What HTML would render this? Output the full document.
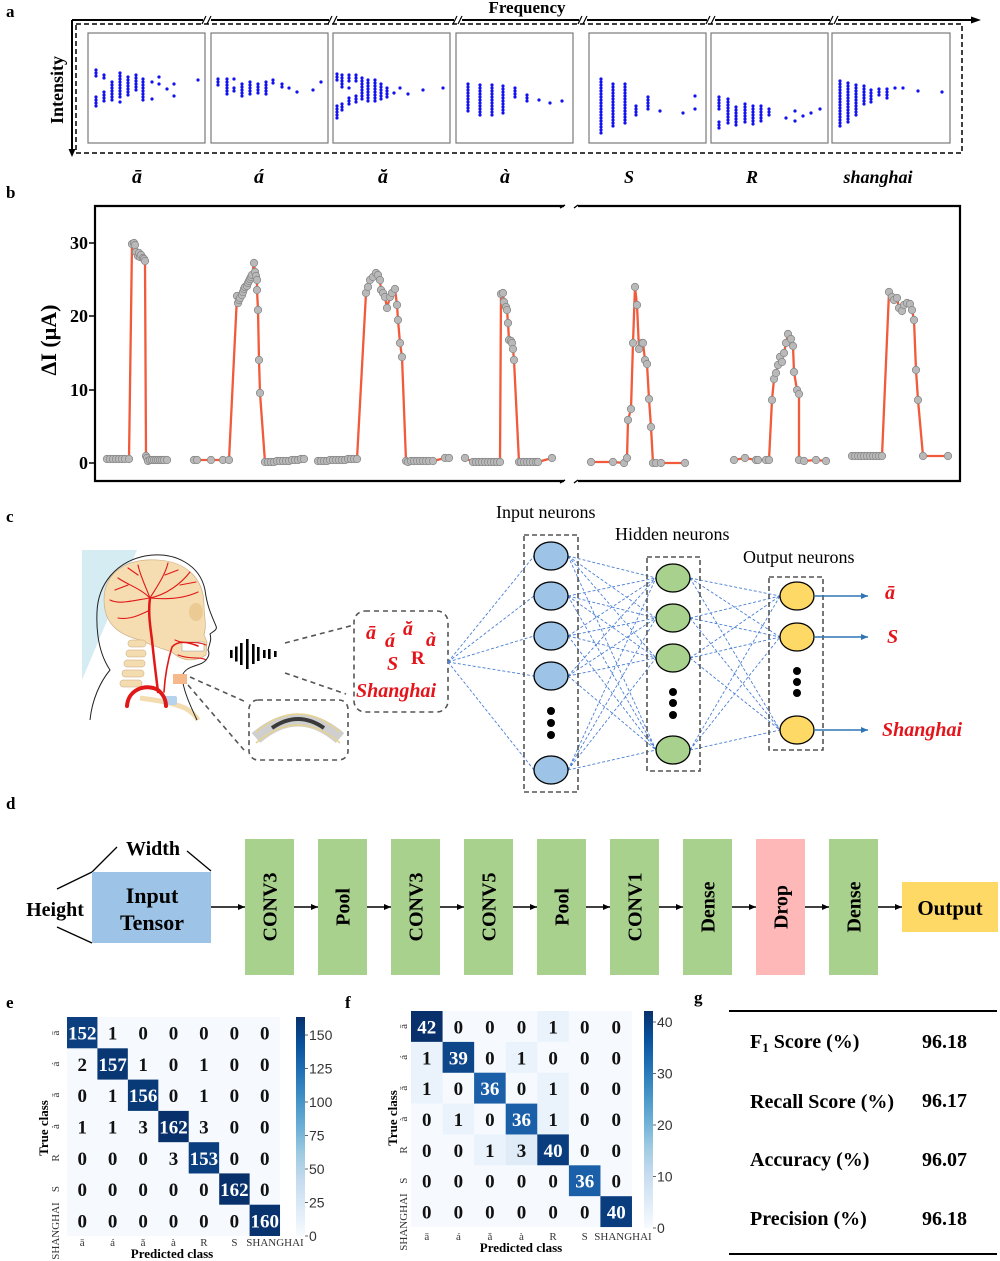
<!DOCTYPE html>
<html><head><meta charset="utf-8">
<style>
body{margin:0;background:#fff}
svg{display:block}
svg text{font-family:"Liberation Serif","DejaVu Serif",serif}
.b{font-weight:bold}
.bi{font-weight:bold;font-style:italic}
.sans{font-family:"Liberation Sans","DejaVu Sans",sans-serif !important}
</style></head>
<body>
<svg width="1000" height="1261" viewBox="0 0 1000 1261" xmlns="http://www.w3.org/2000/svg">
<defs>
<marker id="dot" markerWidth="10" markerHeight="10" refX="5" refY="5" markerUnits="userSpaceOnUse"><circle cx="5" cy="5" r="3.7" fill="#b9b9b9" stroke="#8a8a8a" stroke-width="0.8"/></marker>
<marker id="ah" markerWidth="8" markerHeight="8" refX="7" refY="4" orient="auto" markerUnits="userSpaceOnUse"><path d="M0 1 L7 4 L0 7 Z" fill="#000"/></marker>
<marker id="ahb" markerWidth="8" markerHeight="8" refX="7" refY="4" orient="auto" markerUnits="userSpaceOnUse"><path d="M0 1 L7 4 L0 7 Z" fill="#2e75b6"/></marker>
<linearGradient id="cb" x1="0" y1="1" x2="0" y2="0">
<stop offset="0" stop-color="#f7fbff"/><stop offset="0.125" stop-color="#deebf7"/><stop offset="0.25" stop-color="#c6dbef"/><stop offset="0.375" stop-color="#9ecae1"/><stop offset="0.5" stop-color="#6baed6"/><stop offset="0.625" stop-color="#4292c6"/><stop offset="0.75" stop-color="#2171b5"/><stop offset="0.875" stop-color="#08519c"/><stop offset="1" stop-color="#08306b"/>
</linearGradient>
</defs>
<rect width="1000" height="1261" fill="#fff"/>

<!-- ===== Panel a ===== -->
<text x="6" y="17" class="b" font-size="17">a</text>
<text x="527" y="13" class="b" font-size="17" text-anchor="middle">Frequency</text>
<path d="M72 20 H974" stroke="#000" stroke-width="2" fill="none"/>
<polygon points="971,16.5 981,20 971,23.5" fill="#000"/>
<path d="M72 20 V151" stroke="#000" stroke-width="2" fill="none"/>
<polygon points="68.5,149 72,157 75.5,149" fill="#000"/>
<g stroke="#000" stroke-width="1.2">
<rect x="203" y="15" width="8" height="10" fill="#fff" stroke="none"/><path d="M202 24 L206 16 M207 24 L211 16"/>
<rect x="329" y="15" width="8" height="10" fill="#fff" stroke="none"/><path d="M328 24 L332 16 M333 24 L337 16"/>
<rect x="454" y="15" width="8" height="10" fill="#fff" stroke="none"/><path d="M453 24 L457 16 M458 24 L462 16"/>
<rect x="579" y="15" width="8" height="10" fill="#fff" stroke="none"/><path d="M578 24 L582 16 M583 24 L587 16"/>
<rect x="707" y="15" width="8" height="10" fill="#fff" stroke="none"/><path d="M706 24 L710 16 M711 24 L715 16"/>
<rect x="830" y="15" width="8" height="10" fill="#fff" stroke="none"/><path d="M829 24 L833 16 M834 24 L838 16"/>
</g>
<rect x="76" y="24" width="886" height="129" fill="none" stroke="#000" stroke-width="1.5" stroke-dasharray="5 3"/>
<g fill="#fff" stroke="#7a7a7a" stroke-width="1.2">
<rect x="88" y="33" width="117" height="110"/>
<rect x="211" y="33" width="117" height="110"/>
<rect x="333" y="33" width="117" height="110"/>
<rect x="456" y="33" width="117" height="110"/>
<rect x="589" y="33" width="117" height="110"/>
<rect x="711" y="33" width="117" height="110"/>
<rect x="832" y="33" width="118" height="110"/>
</g>
<text transform="translate(63,90) rotate(-90)" class="b" font-size="18" text-anchor="middle">Intensity</text>
<path fill="none" stroke="#1212ee" stroke-width="3.2" stroke-linecap="round" stroke-dasharray="0 3"
d="M96 70V79M96 97V107M104 75V81M104 92V103M112 82V101M120 73V99M128 77V96M136 75V93M143 79V101
M218 79V88M227 79V95M234 88V94M242 84V98M250 82V95M258 84V96M266 82V95M273 80V86M282 84V90
M337 74V83M337 106V119M342 75V88M342 104V113M349 75V84M349 98V107M356 75V82M356 96V104M362 78V102M368 80V103M375 80V102M381 84V100M387 88V98
M468 84V112M480 85V117M492 85V118M503 86V116M515 88V98M527 95V104
M601 79V134M613 84V128M625 84V126M636 106V117M648 97V110
M719 97V112M719 122V130M728 99V126M736 107V126M745 104V123M753 106V126M761 106V123M769 109V117M803 116V118
M840 81V127M848 83V124M856 85V116M864 86V105M871 90V104M879 89V98M887 89V100"/>
<path fill="none" stroke="#1212ee" stroke-width="3.2" stroke-linecap="round"
d="M120 102h0.01M152 82h0.01M152 99h0.01M159 77h0.01M159 84h0.01M167 89h0.01M174 84h0.01M174 96h0.01M198 80h0.01
M234 79h0.01M289 88h0.01M297 92h0.01M313 90h0.01M321 82h0.01
M349 88h0.01M394 93h0.01M400 88h0.01M408 94h0.01M423 90h0.01M443 88h0.01
M539 100h0.01M550 103h0.01M562 101h0.01
M660 111h0.01M683 113h0.01M695 96h0.01M695 109h0.01
M786 118h0.01M795 111h0.01M795 121h0.01M811 113h0.01M820 109h0.01
M895 88h0.01M903 88h0.01M918 91h0.01M942 92h0.01"/>
<g class="bi" font-size="20" text-anchor="middle">
<text x="137" y="183" class="bi">ā</text>
<text x="259" y="183" class="bi">á</text>
<text x="383" y="183" class="bi">ă</text>
<text x="505" y="183" class="bi">à</text>
<text x="629" y="183" class="bi" font-size="18">S</text>
<text x="752" y="183" class="bi" font-size="18">R</text>
<text x="878" y="183" class="bi" font-size="18">shanghai</text>
</g>

<!-- ===== Panel b ===== -->
<text x="6" y="198" class="b" font-size="17">b</text>
<g stroke="#000" stroke-width="2.2" fill="none">
<path d="M564 206 H95 V481 H564"/>
<path d="M578 206 H960 V481 H578"/>
</g>
<g stroke="#000" stroke-width="1.4" fill="none">
<path d="M560 208 L565 205 M578 205 L574 208 M560 483 L565 480 M578 480 L574 483"/>
<path d="M89 463H95M89 390H95M89 316H95M89 243H95"/>
</g>
<g class="b" font-size="18" text-anchor="end">
<text x="88" y="469">0</text>
<text x="88" y="396">10</text>
<text x="88" y="322">20</text>
<text x="88" y="249">30</text>
</g>
<text transform="translate(56,340) rotate(-90)" class="b" font-size="22" text-anchor="middle">ΔI (μA)</text>
<g fill="none" stroke="#f15a3a" stroke-width="2.3" stroke-linejoin="round" marker-start="url(#dot)" marker-mid="url(#dot)" marker-end="url(#dot)">
<polyline points="107,459 110,459 113,459 116,459 119,459 122,459 125,459 129,459 132,244 134,243 135,245 136,252 138,256 139,253 140,257 141,255 143,258 144,259 145,261 146,456 147,458 148,461 150,460 152,460 154,460 156,460 158,460 160,460 162,460 164,460 167,460"/>
<polyline points="194,460 197,460 211,460 223,460 229,460 237,296 238,303 239,300 240,298 242,295 243,292 244,289 245,287 247,286 248,283 249,281 250,279 251,277 252,275 254,263 255,272 256,276 257,280 257,290 258,310 259,360 260,393 265,462 268,462 271,462 274,462 277,461 280,461 283,461 286,461 289,461 292,460 295,460 298,460 301,459 304,459"/>
<polyline points="318,461 321,461 324,461 327,461 330,460 333,460 336,460 339,460 342,460 345,460 348,459 351,459 354,459 357,459 366,293 368,287 370,280 373,277 376,273 378,275 380,280 381,290 383,293 385,297 387,308 390,297 392,293 395,289 397,305 398,320 400,343 402,357 406,461 408,462 411,461 414,461 417,461 420,461 423,461 426,461 429,461 433,461 445,458 449,458"/>
<polyline points="465,458 473,462 476,462 479,462 482,462 485,462 488,462 491,462 494,462 497,462 500,462 501,294 503,293 504,302 506,307 507,310 508,323 509,340 511,341 512,343 513,349 514,360 519,462 521,462 524,462 527,462 530,462 533,462 536,462 538,462 552,458"/>
<polyline points="591,462 613,462 624,463 627,458 628,420 631,409 633,343 635,287 637,305 639,349 642,343 643,343 645,360 647,364 649,399 651,427 653,463 656,463 661,463 685,463"/>
<polyline points="734,460 745,458 756,460 758,460 766,460 769,460 772,400 774,379 776,373 778,365 780,357 782,362 784,353 786,343 788,334 791,339 793,346 794,372 797,390 799,394 799,460 804,461 816,460 826,461"/>
<polyline points="852,456 855,456 858,456 861,456 864,456 867,456 870,456 873,456 876,456 879,456 882,456 889,292 892,297 894,300 897,298 899,308 902,311 904,305 907,303 910,304 912,310 914,320 916,370 918,400 923,456 948,456"/>
</g>

<!-- ===== Panel c ===== -->
<text x="6" y="522" class="b" font-size="17">c</text>
<polygon points="82,550 137,550 82,680" fill="#d6ecf3"/>
<path d="M104 600 C104 570 130 558 158 560 C188 562 204 580 204 605 C204 615 207 625 204 635 L207 642 L206 655 C196 662 182 662 172 652 C160 648 150 645 140 640 C120 635 104 625 104 600 Z" fill="#f6dcb1" stroke="#caa67a" stroke-width="0.6"/>
<ellipse cx="196" cy="612" rx="7" ry="9" fill="#ecca94"/>
<rect x="182" y="642" width="22" height="9" fill="#fff" stroke="#999" stroke-width="0.5"/>
<g fill="#f3dcb0" stroke="#c9a57a" stroke-width="0.5">
<rect x="128" y="640" width="18" height="7" rx="3"/><rect x="126" y="650" width="20" height="7" rx="3"/><rect x="124" y="660" width="21" height="7" rx="3"/><rect x="122" y="670" width="22" height="7" rx="3"/><rect x="120" y="680" width="22" height="7" rx="3"/>
</g>
<path d="M140 698 C155 700 170 702 185 708 C192 712 196 716 198 720" stroke="#f3dcb0" stroke-width="5" fill="none"/>
<rect x="163" y="696" width="14" height="9" rx="2" fill="#b5d3ec"/>
<g stroke="#e01818" fill="none" stroke-linecap="round">
<path d="M127 706 C128 690 145 683 158 690 C163 694 166 700 166 706" stroke-width="4"/>
<path d="M158 692 C156 675 154 660 152 640 C150 625 148 612 150 598" stroke-width="2.5"/>
<path d="M164 692 C165 675 168 660 172 647 C178 640 188 642 198 646" stroke-width="1.6"/>
<path d="M150 598 C140 588 128 585 118 578 M150 598 C145 585 140 575 138 565 M150 598 C158 585 165 575 168 563 M150 598 C165 595 180 585 190 572 M150 598 C170 600 185 598 198 592 M150 598 C135 600 120 605 110 600 M150 610 C140 615 130 620 118 618 M128 585 L115 590 M138 575 L128 568 M165 575 L178 570 M180 585 L196 582" stroke-width="1.1"/>
<path d="M175 640 C185 645 195 640 206 645 M178 655 C190 660 200 656 206 660" stroke-width="1.1"/>
</g>
<path d="M90 720 C92 700 100 682 110 670 C100 655 96 635 97 612 C98 585 115 562 145 556 C175 551 200 565 205 590 C207 605 210 612 216 626 C218 630 212 632 210 634 C212 640 209 645 208 650 C211 655 206 662 200 664 C192 667 185 668 182 676 C183 690 190 705 197 720" fill="none" stroke="#222" stroke-width="1"/>
<rect x="173" y="674" width="14" height="10" fill="#f5b98b"/>
<g fill="#000">
<rect x="230" y="650" width="2.6" height="8"/><rect x="235" y="646.5" width="2.6" height="15"/><rect x="240" y="643" width="2.6" height="22"/><rect x="246" y="639" width="2.6" height="30"/><rect x="252" y="644" width="2.6" height="20"/><rect x="257" y="647" width="2.6" height="14"/><rect x="263" y="650" width="2.6" height="8"/><rect x="268" y="649" width="2.6" height="10"/><rect x="274" y="651" width="2.6" height="6"/>
</g>
<g stroke="#555" stroke-width="1.6" stroke-dasharray="5 4" fill="none">
<path d="M285 643 L354 625 M285 673 L346 694"/>
<path d="M190 677 L246 702 M188 685 L244 750"/>
<rect x="249" y="700" width="99" height="60" rx="9"/>
<rect x="354" y="611" width="94" height="101" rx="11"/>
</g>
<path d="M256 738 Q298 702 340 738" stroke="#cfcfcf" stroke-width="13" fill="none"/>
<path d="M256 732 Q298 696 340 732 M256 743 Q298 707 340 743" stroke="#e5d38e" stroke-width="1.5" fill="none"/>
<path d="M272 728 Q298 710 324 728" stroke="#3a3a3a" stroke-width="4" fill="none"/>
<g fill="#e3141a">
<text x="366" y="639" class="bi" font-size="20">ā</text>
<text x="385" y="647" class="bi" font-size="20">á</text>
<text x="403" y="635" class="bi" font-size="20">ă</text>
<text x="426" y="646" class="bi" font-size="20">à</text>
<text x="387" y="670" class="bi" font-size="20">S</text>
<text x="411" y="664" class="b" font-size="19">R</text>
<text x="356" y="697" class="bi" font-size="20">Shanghai</text>
</g>
<!-- network -->
<text x="496" y="518" font-size="18">Input neurons</text>
<text x="615" y="540" font-size="18">Hidden neurons</text>
<text x="743" y="563" font-size="18">Output neurons</text>
<g stroke="#4a7fd4" stroke-width="0.9" stroke-dasharray="3 2" fill="none">
<path d="M448 662L534 556M448 662L534 596M448 662L534 636M448 662L534 676M448 662L534 770
M568 556L656 578M568 556L656 618M568 556L656 658M568 556L656 750
M568 596L656 578M568 596L656 618M568 596L656 658M568 596L656 750
M568 636L656 578M568 636L656 618M568 636L656 658M568 636L656 750
M568 676L656 578M568 676L656 618M568 676L656 658M568 676L656 750
M568 770L656 578M568 770L656 618M568 770L656 658M568 770L656 750
M690 578L780 596M690 578L780 637M690 578L780 730
M690 618L780 596M690 618L780 637M690 618L780 730
M690 658L780 596M690 658L780 637M690 658L780 730
M690 750L780 596M690 750L780 637M690 750L780 730"/>
</g>
<g stroke="#555" stroke-width="1.6" stroke-dasharray="5 3" fill="none">
<rect x="524" y="535" width="54" height="257"/>
<rect x="647" y="557" width="53" height="214"/>
<rect x="769" y="577" width="54" height="173"/>
</g>
<g stroke="#000" stroke-width="1.3">
<g fill="#9dc3e6">
<ellipse cx="551" cy="556" rx="17" ry="14"/><ellipse cx="551" cy="596" rx="17" ry="14"/><ellipse cx="551" cy="636" rx="17" ry="14"/><ellipse cx="551" cy="676" rx="17" ry="14"/><ellipse cx="551" cy="770" rx="17" ry="14"/>
</g>
<g fill="#a9d18e">
<ellipse cx="673" cy="578" rx="17" ry="14"/><ellipse cx="673" cy="618" rx="17" ry="14"/><ellipse cx="673" cy="658" rx="17" ry="14"/><ellipse cx="673" cy="750" rx="17" ry="14"/>
</g>
<g fill="#ffd966">
<ellipse cx="797" cy="596" rx="17" ry="14"/><ellipse cx="797" cy="637" rx="17" ry="14"/><ellipse cx="797" cy="730" rx="17" ry="14"/>
</g>
</g>
<g fill="#000">
<circle cx="551" cy="711" r="4"/><circle cx="551" cy="723" r="4"/><circle cx="551" cy="735" r="4"/>
<circle cx="673" cy="692" r="4"/><circle cx="673" cy="703" r="4"/><circle cx="673" cy="715" r="4"/>
<circle cx="797" cy="671" r="4"/><circle cx="797" cy="682" r="4"/><circle cx="797" cy="693" r="4"/>
</g>
<g stroke="#2e75b6" stroke-width="1.4" marker-end="url(#ahb)">
<path d="M814 596H868"/><path d="M814 637H868"/><path d="M814 730H868"/>
</g>
<g fill="#e3141a">
<text x="885" y="599" class="bi" font-size="20">ā</text>
<text x="887" y="643" class="bi" font-size="20">S</text>
<text x="882" y="736" class="bi" font-size="20">Shanghai</text>
</g>

<!-- ===== Panel d ===== -->
<text x="6" y="809" class="b" font-size="17">d</text>
<text x="153" y="855" class="b" font-size="20" text-anchor="middle">Width</text>
<text x="55" y="916" class="b" font-size="20" text-anchor="middle">Height</text>
<g stroke="#000" stroke-width="1.3">
<path d="M92 872 L117 847 M187 851 L211 871 M57 889 L92 872 M57 927 L92 943"/>
</g>
<rect x="92" y="872" width="119" height="71" fill="#9dc3e6"/>
<text x="152" y="903" class="b" font-size="22" text-anchor="middle">Input</text>
<text x="152" y="930" class="b" font-size="22" text-anchor="middle">Tensor</text>
<g fill="#a9d18e">
<rect x="245" y="839" width="49" height="136"/><rect x="318" y="839" width="49" height="136"/><rect x="391" y="839" width="49" height="136"/><rect x="464" y="839" width="49" height="136"/><rect x="537" y="839" width="49" height="136"/><rect x="610" y="839" width="49" height="136"/><rect x="683" y="839" width="49" height="136"/><rect x="829" y="839" width="49" height="136"/>
</g>
<rect x="756" y="839" width="49" height="136" fill="#ffb8b8"/>
<rect x="902" y="882" width="96" height="50" fill="#ffd966"/>
<text x="950" y="915" class="b" font-size="21" text-anchor="middle">Output</text>
<g class="b" font-size="20" text-anchor="middle">
<text transform="translate(276.5,907) rotate(-90)" class="b">CONV3</text>
<text transform="translate(349.5,907) rotate(-90)" class="b">Pool</text>
<text transform="translate(422.5,907) rotate(-90)" class="b">CONV3</text>
<text transform="translate(495.5,907) rotate(-90)" class="b">CONV5</text>
<text transform="translate(568.5,907) rotate(-90)" class="b">Pool</text>
<text transform="translate(641.5,907) rotate(-90)" class="b">CONV1</text>
<text transform="translate(714.5,907) rotate(-90)" class="b">Dense</text>
<text transform="translate(787.5,907) rotate(-90)" class="b">Drop</text>
<text transform="translate(860.5,907) rotate(-90)" class="b">Dense</text>
</g>
<g stroke="#000" stroke-width="1.5" marker-end="url(#ah)">
<path d="M211 907H245"/><path d="M294 907H318"/><path d="M367 907H391"/><path d="M440 907H464"/><path d="M513 907H537"/><path d="M586 907H610"/><path d="M659 907H683"/><path d="M732 907H756"/><path d="M805 907H829"/><path d="M878 907H902"/>
</g>

<!-- ===== Panel e ===== -->
<text x="6" y="1008" class="b" font-size="17">e</text>
<rect x="67" y="1017" width="213" height="219" fill="#f6faff"/>
<rect x="67" y="1017" width="30.43" height="31.29" fill="#0b3f80"/>
<rect x="97.4" y="1048.3" width="30.43" height="31.29" fill="#083774"/>
<rect x="127.9" y="1079.6" width="30.43" height="31.29" fill="#093a78"/>
<rect x="158.3" y="1110.9" width="30.43" height="31.29" fill="#08306b"/>
<rect x="188.7" y="1142.2" width="30.43" height="31.29" fill="#0a3e7e"/>
<rect x="219.2" y="1173.4" width="30.43" height="31.29" fill="#08306b"/>
<rect x="249.6" y="1204.7" width="30.43" height="31.29" fill="#08336f"/>
<g class="b" font-size="19" text-anchor="middle">
<g fill="#111">
<text x="112.6" y="1039.6">1</text><text x="143.1" y="1039.6">0</text><text x="173.5" y="1039.6">0</text><text x="203.9" y="1039.6">0</text><text x="234.4" y="1039.6">0</text><text x="264.8" y="1039.6">0</text>
<text x="82.2" y="1070.9">2</text><text x="143.1" y="1070.9">1</text><text x="173.5" y="1070.9">0</text><text x="203.9" y="1070.9">1</text><text x="234.4" y="1070.9">0</text><text x="264.8" y="1070.9">0</text>
<text x="82.2" y="1102.2">0</text><text x="112.6" y="1102.2">1</text><text x="173.5" y="1102.2">0</text><text x="203.9" y="1102.2">1</text><text x="234.4" y="1102.2">0</text><text x="264.8" y="1102.2">0</text>
<text x="82.2" y="1133.5">1</text><text x="112.6" y="1133.5">1</text><text x="143.1" y="1133.5">3</text><text x="203.9" y="1133.5">3</text><text x="234.4" y="1133.5">0</text><text x="264.8" y="1133.5">0</text>
<text x="82.2" y="1164.8">0</text><text x="112.6" y="1164.8">0</text><text x="143.1" y="1164.8">0</text><text x="173.5" y="1164.8">3</text><text x="234.4" y="1164.8">0</text><text x="264.8" y="1164.8">0</text>
<text x="82.2" y="1196.1">0</text><text x="112.6" y="1196.1">0</text><text x="143.1" y="1196.1">0</text><text x="173.5" y="1196.1">0</text><text x="203.9" y="1196.1">0</text><text x="264.8" y="1196.1">0</text>
<text x="82.2" y="1227.4">0</text><text x="112.6" y="1227.4">0</text><text x="143.1" y="1227.4">0</text><text x="173.5" y="1227.4">0</text><text x="203.9" y="1227.4">0</text><text x="234.4" y="1227.4">0</text>
</g>
<g fill="#fff">
<text x="82.2" y="1039.6">152</text><text x="112.6" y="1070.9">157</text><text x="143.1" y="1102.2">156</text><text x="173.5" y="1133.5">162</text><text x="203.9" y="1164.8">153</text><text x="234.4" y="1196.1">162</text><text x="264.8" y="1227.4">160</text>
</g>
</g>
<g font-size="11" fill="#333" text-anchor="middle">
<text x="82.2" y="1246">ā</text><text x="112.6" y="1246">á</text><text x="143.1" y="1246">ǎ</text><text x="173.5" y="1246">à</text><text x="203.9" y="1246">R</text><text x="234.4" y="1246">S</text><text x="275" y="1246">SHANGHAI</text>
<text transform="translate(59,1033) rotate(-90)">ā</text>
<text transform="translate(59,1064) rotate(-90)">á</text>
<text transform="translate(59,1095) rotate(-90)">ǎ</text>
<text transform="translate(59,1126.5) rotate(-90)">à</text>
<text transform="translate(59,1158) rotate(-90)">R</text>
<text transform="translate(59,1189) rotate(-90)">S</text>
<text transform="translate(59,1231) rotate(-90)">SHANGHAI</text>
</g>
<text transform="translate(48,1128) rotate(-90)" class="b" font-size="13" text-anchor="middle">True class</text>
<text x="172" y="1258" class="b" font-size="13" text-anchor="middle">Predicted class</text>
<rect x="296" y="1017" width="9" height="219" fill="url(#cb)"/>
<g stroke="#333" stroke-width="0.8"><path d="M305 1035H308M305 1068.5H308M305 1102H308M305 1135.5H308M305 1169H308M305 1202.5H308M305 1236H308"/></g>
<g class="sans" font-size="14" fill="#333">
<text x="309" y="1040" class="sans">150</text><text x="309" y="1073.5" class="sans">125</text><text x="309" y="1107" class="sans">100</text><text x="309" y="1140.5" class="sans">75</text><text x="309" y="1174" class="sans">50</text><text x="309" y="1207.5" class="sans">25</text><text x="309" y="1241" class="sans">0</text>
</g>

<!-- ===== Panel f ===== -->
<text x="345" y="1008" class="b" font-size="17">f</text>
<rect x="411" y="1011" width="221" height="216" fill="#f6faff"/>
<g fill="#eaf3fb">
<rect x="537.3" y="1011" width="31.57" height="30.86"/><rect x="411" y="1041.9" width="31.57" height="30.86"/><rect x="505.7" y="1041.9" width="31.57" height="30.86"/><rect x="411" y="1072.7" width="31.57" height="30.86"/><rect x="537.3" y="1072.7" width="31.57" height="30.86"/><rect x="442.6" y="1103.6" width="31.57" height="30.86"/><rect x="537.3" y="1103.6" width="31.57" height="30.86"/><rect x="474.1" y="1134.4" width="31.57" height="30.86"/>
</g>
<rect x="505.7" y="1134.4" width="31.57" height="30.86" fill="#dfebf7"/>
<rect x="411" y="1011" width="31.57" height="30.86" fill="#08306b"/>
<rect x="442.6" y="1041.9" width="31.57" height="30.86" fill="#0d4689"/>
<rect x="474.1" y="1072.7" width="31.57" height="30.86" fill="#1b5fa8"/>
<rect x="505.7" y="1103.6" width="31.57" height="30.86" fill="#1b5fa8"/>
<rect x="537.3" y="1134.4" width="31.57" height="30.86" fill="#0a3d7e"/>
<rect x="568.9" y="1165.3" width="31.57" height="30.86" fill="#1b5fa8"/>
<rect x="600.4" y="1196.2" width="31.57" height="30.86" fill="#0a3d7e"/>
<g class="b" font-size="19" text-anchor="middle">
<g fill="#111">
<text x="458.4" y="1033.4">0</text><text x="489.9" y="1033.4">0</text><text x="521.5" y="1033.4">0</text><text x="553.1" y="1033.4">1</text><text x="584.7" y="1033.4">0</text><text x="616.2" y="1033.4">0</text>
<text x="426.8" y="1064.3">1</text><text x="489.9" y="1064.3">0</text><text x="521.5" y="1064.3">1</text><text x="553.1" y="1064.3">0</text><text x="584.7" y="1064.3">0</text><text x="616.2" y="1064.3">0</text>
<text x="426.8" y="1095.2">1</text><text x="458.4" y="1095.2">0</text><text x="521.5" y="1095.2">0</text><text x="553.1" y="1095.2">1</text><text x="584.7" y="1095.2">0</text><text x="616.2" y="1095.2">0</text>
<text x="426.8" y="1126">0</text><text x="458.4" y="1126">1</text><text x="489.9" y="1126">0</text><text x="553.1" y="1126">1</text><text x="584.7" y="1126">0</text><text x="616.2" y="1126">0</text>
<text x="426.8" y="1156.9">0</text><text x="458.4" y="1156.9">0</text><text x="489.9" y="1156.9">1</text><text x="521.5" y="1156.9">3</text><text x="584.7" y="1156.9">0</text><text x="616.2" y="1156.9">0</text>
<text x="426.8" y="1187.7">0</text><text x="458.4" y="1187.7">0</text><text x="489.9" y="1187.7">0</text><text x="521.5" y="1187.7">0</text><text x="553.1" y="1187.7">0</text><text x="616.2" y="1187.7">0</text>
<text x="426.8" y="1218.6">0</text><text x="458.4" y="1218.6">0</text><text x="489.9" y="1218.6">0</text><text x="521.5" y="1218.6">0</text><text x="553.1" y="1218.6">0</text><text x="584.7" y="1218.6">0</text>
</g>
<g fill="#fff">
<text x="426.8" y="1033.4">42</text><text x="458.4" y="1064.3">39</text><text x="489.9" y="1095.2">36</text><text x="521.5" y="1126">36</text><text x="553.1" y="1156.9">40</text><text x="584.7" y="1187.7">36</text><text x="616.2" y="1218.6">40</text>
</g>
</g>
<g font-size="11" fill="#333" text-anchor="middle">
<text x="426.8" y="1240">ā</text><text x="458.4" y="1240">á</text><text x="489.9" y="1240">ǎ</text><text x="521.5" y="1240">à</text><text x="553.1" y="1240">R</text><text x="584.7" y="1240">S</text><text x="623" y="1240">SHANGHAI</text>
<text transform="translate(407,1026.4) rotate(-90)">ā</text>
<text transform="translate(407,1057.3) rotate(-90)">á</text>
<text transform="translate(407,1088.2) rotate(-90)">ǎ</text>
<text transform="translate(407,1119) rotate(-90)">à</text>
<text transform="translate(407,1150) rotate(-90)">R</text>
<text transform="translate(407,1180.7) rotate(-90)">S</text>
<text transform="translate(407,1222) rotate(-90)">SHANGHAI</text>
</g>
<text transform="translate(397,1118) rotate(-90)" class="b" font-size="13" text-anchor="middle">True class</text>
<text x="521" y="1252" class="b" font-size="13" text-anchor="middle">Predicted class</text>
<rect x="644" y="1011" width="9" height="217" fill="url(#cb)"/>
<g stroke="#333" stroke-width="0.8"><path d="M653 1022H656M653 1073.5H656M653 1125H656M653 1176.5H656M653 1228H656"/></g>
<g class="sans" font-size="14" fill="#333">
<text x="657" y="1027" class="sans">40</text><text x="657" y="1078.5" class="sans">30</text><text x="657" y="1130" class="sans">20</text><text x="657" y="1181.5" class="sans">10</text><text x="657" y="1233" class="sans">0</text>
</g>

<!-- ===== Panel g ===== -->
<text x="694" y="1003" class="b" font-size="17">g</text>
<path d="M729 1011H997M729 1254H997" stroke="#000" stroke-width="2"/>
<g class="b" font-size="20">
<text x="750" y="1048" class="b">F<tspan font-size="13" dy="4">1</tspan><tspan dy="-4"> Score (%)</tspan></text>
<text x="750" y="1108" class="b">Recall Score (%)</text>
<text x="750" y="1166" class="b">Accuracy (%)</text>
<text x="750" y="1225" class="b">Precision (%)</text>
<text x="922" y="1048" class="b">96.18</text>
<text x="922" y="1107" class="b">96.17</text>
<text x="922" y="1166" class="b">96.07</text>
<text x="922" y="1225" class="b">96.18</text>
</g>
</svg>
</body></html>
